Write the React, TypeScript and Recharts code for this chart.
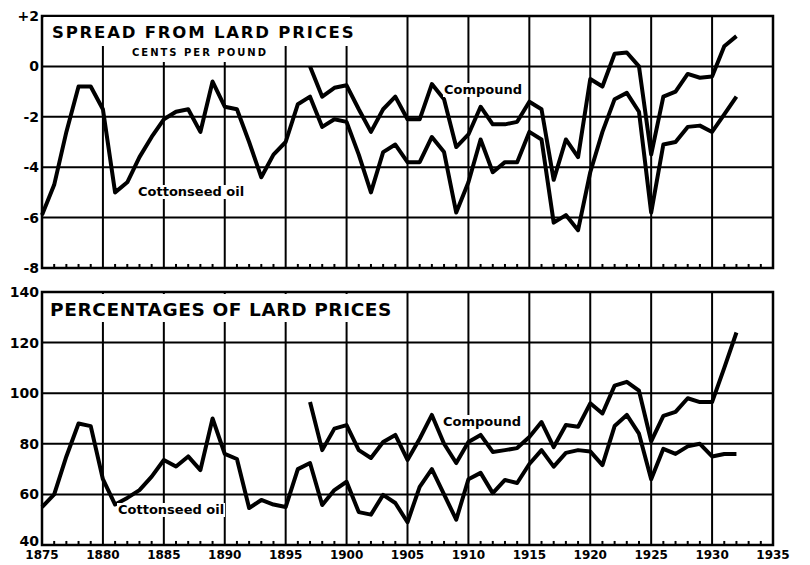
/**
 * Cottonseed oil and compound vs. lard prices, 1875-1932
 * Two stacked panels: spread (cents per pound) and percentage of lard price
 */

import { LineChart, Line, XAxis, YAxis, CartesianGrid, ReferenceLine, ReferenceArea } from 'recharts';

const FIRST_YEAR = 1875;
const COMPOUND_FIRST_YEAR = 1897;

// Spread from lard prices, cents per pound (1875-1932)
const cottonseedSpread = [
  -5.9, -4.7, -2.6, -0.8, -0.8,
  -1.7, -5.0, -4.6, -3.6, -2.8, -2.1, -1.8, -1.7, -2.6, -0.6,
  -1.6, -1.7, -3.0, -4.4, -3.5, -3.0, -1.5, -1.2, -2.4, -2.1,
  -2.2, -3.5, -5.0, -3.4, -3.1, -3.8, -3.8, -2.8, -3.4, -5.8,
  -4.6, -2.9, -4.2, -3.8, -3.8, -2.6, -2.9, -6.2, -5.9, -6.5,
  -4.2, -2.6, -1.3, -1.05, -1.8, -5.8, -3.1, -3.0, -2.4, -2.35,
  -2.6, -1.9, -1.2,
];

// Spread from lard prices, cents per pound (1897-1932)
const compoundSpread = [
  0.0, -1.2, -0.85,
  -0.75, -1.7, -2.6, -1.7, -1.2, -2.1, -2.1, -0.7, -1.3, -3.2,
  -2.7, -1.6, -2.3, -2.3, -2.2, -1.4, -1.7, -4.5, -2.9, -3.6,
  -0.5, -0.8, 0.5, 0.55, 0.0, -3.5, -1.2, -1.0, -0.3, -0.45,
  -0.4, 0.8, 1.2,
];

// Percentage of lard prices (1875-1932)
const cottonseedPct = [
  55, 60, 75, 88, 87,
  66, 56, 58.6, 61.7, 67, 73.6, 71, 75, 69.6, 90,
  76, 74, 54.6, 57.8, 56, 55, 70, 72.4, 55.8, 61.7,
  65, 53, 52, 59.8, 56.6, 49, 63, 70, 60, 50,
  66, 68.5, 60.5, 65.7, 64.5, 72, 77.5, 71, 76.4, 77.5,
  77, 71.6, 87, 91.4, 84, 66, 78, 76, 79, 80,
  75, 76, 76,
];

// Percentage of lard prices (1897-1932)
const compoundPct = [
  96.5, 77.5, 86,
  87.4, 77.5, 74.4, 80.7, 83.5, 73.6, 82, 91.4, 80, 72.4,
  80.7, 83.5, 76.8, 77.5, 78.3, 82.7, 88.6, 78.7, 87.4, 86.7,
  96, 92, 103, 104.5, 101, 81, 91, 92.6, 98, 96.5,
  96.5, 110, 124,
];

const yearTicks = [1875, 1880, 1885, 1890, 1895, 1900, 1905, 1910, 1915, 1920, 1925, 1930, 1935];
const minorYears = Array.from({ length: 59 }, (_, i) => FIRST_YEAR + 1 + i).filter((y) => y % 5 !== 0);
const gridYears = [1880, 1885, 1890, 1895, 1900, 1905, 1910, 1915, 1920, 1925, 1930];
const spreadTicks = [-8, -6, -4, -2, 0, 2];
const pctTicks = [40, 60, 80, 100, 120, 140];

const FONT = '"DejaVu Sans", Verdana, sans-serif';
const INK = '#000';

function buildData(cotton: number[], compound: number[]) {
  return cotton.map((v, i) => {
    const year = FIRST_YEAR + i;
    const j = year - COMPOUND_FIRST_YEAR;
    return { year, cottonseed: v, compound: j >= 0 ? compound[j] : null };
  });
}

const spreadData = buildData(cottonseedSpread, compoundSpread);
const pctData = buildData(cottonseedPct, compoundPct);

const fmtSpread = (v: number) => (v > 0 ? `+${v}` : `${v}`);
const fmtPct = (v: number) => `${v}`;

const tickText = { fontFamily: FONT, fontWeight: 700, fontSize: 14, fill: INK };

// the lowest label is nudged up a little so it clears the year labels
const leftTick = (fmt: (v: number) => string, low: number, nudge: number) => (p: any) => (
  <text x={p.x} y={p.y - (p.payload.value === low ? nudge : 0)} dy="0.36em" textAnchor="end" {...tickText}>
    {fmt(p.payload.value)}
  </text>
);

const rightTick = (fmt: (v: number) => string, low: number, nudge: number) => (p: any) => (
  <text x={p.x + 33} y={p.y - (p.payload.value === low ? nudge : 0)} dy="0.36em" textAnchor="end" {...tickText}>
    {fmt(p.payload.value)}
  </text>
);

const yearTick = (p: any) => (
  <text x={p.x} y={p.y} dy={14} textAnchor="middle" fontFamily={FONT} fontWeight={700} fontSize={12} fill={INK}>
    {p.payload.value}
  </text>
);

interface PanelProps {
  data: { year: number; cottonseed: number; compound: number | null }[];
  ticks: number[];
  domain: [number, number];
  fmt: (v: number) => string;
  height: number;
  margin: { top: number; right: number; bottom: number; left: number };
  showYears: boolean;
  minorLen: number;
}

function Panel({ data, ticks, domain, fmt, height, margin, showYears, minorLen }: PanelProps) {
  const nudge = showYears ? 4 : 0;
  return (
    <LineChart width={810} height={height} data={data} margin={margin}>
      <CartesianGrid vertical={false} stroke={INK} strokeWidth={2} />
      {gridYears.map((yr) => (
        <ReferenceLine key={yr} x={yr} stroke={INK} strokeWidth={2} />
      ))}
      {minorYears.map((yr) => (
        <ReferenceLine
          key={`m${yr}`}
          segment={[{ x: yr, y: domain[0] }, { x: yr, y: domain[0] + minorLen }]}
          stroke={INK}
          strokeWidth={2}
        />
      ))}
      <ReferenceArea x1={1875} x2={1935} y1={domain[0]} y2={domain[1]} fill="none" stroke={INK} strokeWidth={2.5} />
      <XAxis
        dataKey="year"
        type="number"
        domain={[1875, 1935]}
        ticks={yearTicks}
        interval={0}
        height={showYears ? 20 : 0}
        axisLine={false}
        tickLine={false}
        tickSize={0}
        tickMargin={0}
        tick={showYears ? yearTick : false}
      />
      <YAxis
        width={36}
        domain={domain}
        ticks={ticks}
        interval={0}
        axisLine={false}
        tickLine={false}
        tickSize={0}
        tickMargin={3}
        tick={leftTick(fmt, domain[0], nudge)}
      />
      <YAxis
        yAxisId="right"
        orientation="right"
        width={36}
        domain={domain}
        ticks={ticks}
        interval={0}
        axisLine={false}
        tickLine={false}
        tickSize={0}
        tickMargin={0}
        tick={rightTick(fmt, domain[0], nudge)}
      />
      <Line
        type="linear"
        dataKey="cottonseed"
        stroke={INK}
        strokeWidth={4}
        strokeLinejoin="round"
        dot={false}
        isAnimationActive={false}
      />
      <Line
        type="linear"
        dataKey="compound"
        stroke={INK}
        strokeWidth={4}
        strokeLinejoin="round"
        dot={false}
        connectNulls={false}
        isAnimationActive={false}
      />
    </LineChart>
  );
}

const label = (left: number, top: number, fontSize: number, extra: any = {}) => ({
  position: 'absolute' as const,
  left,
  top,
  fontFamily: FONT,
  fontWeight: 700,
  fontSize,
  lineHeight: `${fontSize + 1}px`,
  background: '#fff',
  color: INK,
  whiteSpace: 'nowrap' as const,
  ...extra,
});

export default function App() {
  return (
    <div style={{ position: 'absolute', left: 0, top: 0, width: 810, height: 565, background: '#fff', overflow: 'hidden' }}>
      <div style={{ position: 'absolute', left: 0, top: 0 }}>
        <Panel
          data={spreadData}
          ticks={spreadTicks}
          domain={[-8, 2]}
          fmt={fmtSpread}
          height={280}
          margin={{ top: 16, right: 1, bottom: 12, left: 6 }}
          showYears={false}
          minorLen={0.16}
        />
      </div>
      <div style={{ position: 'absolute', left: 0, top: 280 }}>
        <Panel
          data={pctData}
          ticks={pctTicks}
          domain={[40, 140]}
          fmt={fmtPct}
          height={285}
          margin={{ top: 12, right: 1, bottom: 0, left: 6 }}
          showYears={true}
          minorLen={1.6}
        />
      </div>

      {/* panel titles */}
      <div style={label(44, 17, 16.5, { width: 306, height: 29, paddingLeft: 8, paddingTop: 7, letterSpacing: 1.8, boxSizing: 'border-box' })}>
        SPREAD FROM LARD PRICES
      </div>
      <div style={label(108, 46, 10, { width: 176, height: 16, paddingLeft: 24, paddingTop: 1, letterSpacing: 2, boxSizing: 'border-box' })}>
        CENTS PER POUND
      </div>
      <div style={label(44, 294, 18.5, { width: 356, height: 28, paddingLeft: 6, paddingTop: 6, letterSpacing: 0.6, boxSizing: 'border-box' })}>
        PERCENTAGES OF LARD PRICES
      </div>

      {/* series labels */}
      <div style={label(137, 185, 13, { padding: '0 1px' })}>Cottonseed oil</div>
      <div style={label(443, 83, 13, { padding: '0 1px' })}>Compound</div>
      <div style={label(442, 415, 13, { padding: '0 1px' })}>Compound</div>
      <div style={label(117, 503, 13, { padding: '0 1px' })}>Cottonseed oil</div>
    </div>
  );
}
